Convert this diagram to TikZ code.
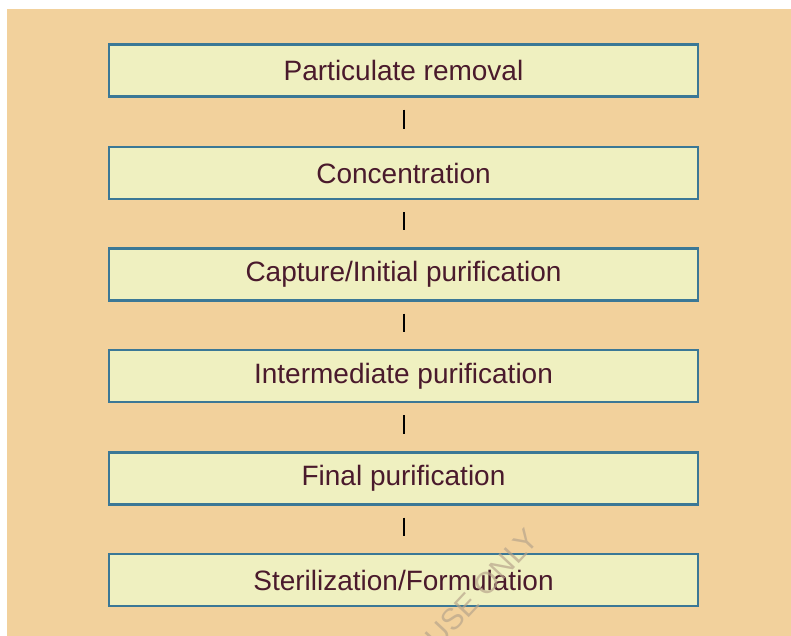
\documentclass[tikz,border=0pt]{standalone}
\usepackage{fontspec}
\setmainfont{Liberation Sans}
\definecolor{bgpeach}{HTML}{F2D19C}
\definecolor{boxfill}{HTML}{EFF0C0}
\definecolor{boxline}{HTML}{3B7896}
\definecolor{txtmaroon}{HTML}{4A1A2C}
\definecolor{wmark}{HTML}{B8A58C}
\begin{document}
\begin{tikzpicture}[x=1pt,y=-1pt,
  stagebox/.style={draw=boxline, line width=2.2pt, fill=boxfill,
    minimum width=589pt, minimum height=52pt, inner sep=0pt,
    text=txtmaroon, font=\fontsize{28}{30}\selectfont},
  link/.style={line width=2pt, black}]
  \useasboundingbox (0,0) rectangle (791,636);
  \fill[bgpeach] (7,9) rectangle (791,636);

  \node[stagebox] (s1) at (403.5,70.5)  {\raisebox{-2pt}{Particulate removal}};
  \node[stagebox] (s2) at (403.5,173)   {\raisebox{-2pt}{Concentration}};
  \node[stagebox] (s3) at (403.5,274.5) {\raisebox{-2pt}{Capture/Initial purification}};
  \node[stagebox] (s4) at (403.5,376)   {\raisebox{-2pt}{Intermediate purification}};
  \node[stagebox] (s5) at (403.5,478.5) {\raisebox{-2pt}{Final purification}};
  \node[stagebox] (s6) at (403.5,580)   {\raisebox{-2pt}{Sterilization/Formulation}};

  \foreach \a/\b in {s1/s2,s2/s3,s3/s4,s4/s5,s5/s6}
    \draw[link] ([yshift=-12pt]\a.south) -- ([yshift=17pt]\b.north);

  % faint diagonal stamp over the last stage
  \begin{scope}
    \clip (7,9) rectangle (791,636);
    \node[text=wmark, opacity=0.7, rotate=47, font=\fontsize{30}{32}\selectfont]
      (stamp) at (482,588) {USE ONLY};
  \end{scope}
\end{tikzpicture}
\end{document}
